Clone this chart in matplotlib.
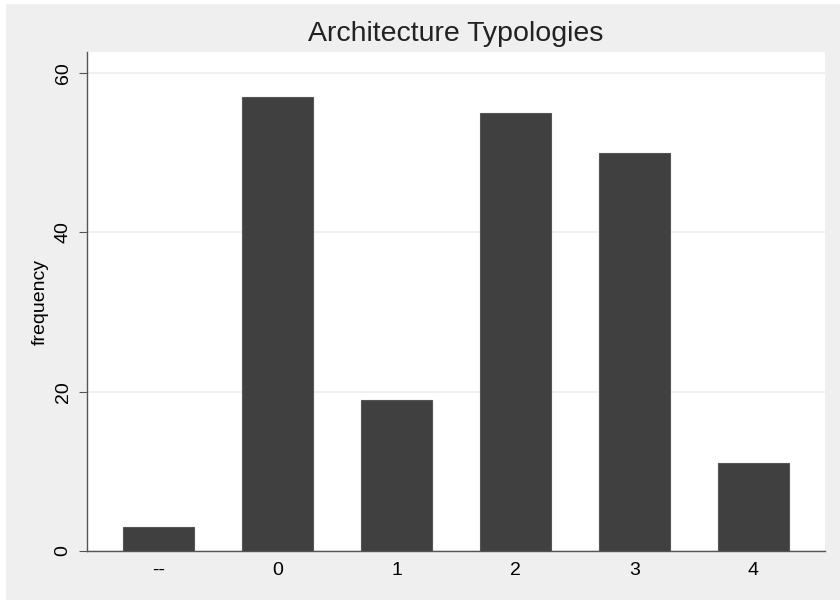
import matplotlib
matplotlib.use("Agg")
import matplotlib.pyplot as plt
from matplotlib.patches import Rectangle

categories = ["--", "0", "1", "2", "3", "4"]
frequency = [3, 57, 19, 55, 50, 11]
yticks = [0, 20, 40, 60]

plt.rcParams['font.family'] = ['Liberation Sans', 'DejaVu Sans']

fig = plt.figure(figsize=(8.4, 6), dpi=100, facecolor="#efefef")
# thin white border along the top and left like the screenshot
fig.patches.append(Rectangle((0, 0.995), 1, 0.005, transform=fig.transFigure,
                             color="white", zorder=-1))
fig.patches.append(Rectangle((0, 0), 0.006, 1, transform=fig.transFigure,
                             color="white", zorder=-1))

ax = fig.add_axes([0.1036, 0.0817, 0.8784, 0.8313])
ax.set_facecolor("white")

x = range(len(categories))
ax.bar(x, frequency, width=0.6, color="#404040", edgecolor="#555555",
       linewidth=0.8, zorder=3)

ax.set_xlim(-0.6, len(categories) - 0.4)
ax.set_ylim(0, 62.6)
ax.set_xticks(list(x))
ax.set_xticklabels(categories, fontsize=14)
ax.set_yticks(yticks)
ax.set_yticklabels([str(t) for t in yticks], fontsize=14, rotation=90, va="center")
ax.grid(axis="y", color="#eeeeee", linewidth=1.2, zorder=0)

for s in ["top", "right"]:
    ax.spines[s].set_visible(False)
for s in ["left", "bottom"]:
    ax.spines[s].set_color("#555555")
    ax.spines[s].set_linewidth(1.0)
ax.tick_params(axis="x", length=0, pad=8)
ax.tick_params(axis="y", length=6, color="#555555", pad=5)

ax.set_ylabel("frequency", fontsize=14, labelpad=4)
ax.set_title("Architecture Typologies", fontsize=20.5, color="#222222", pad=8)

fig.savefig("out.png", dpi=100, facecolor=fig.get_facecolor())
